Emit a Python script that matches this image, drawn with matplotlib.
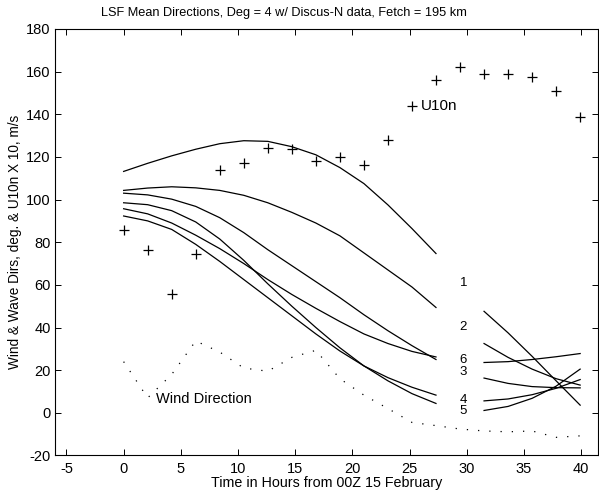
#!/usr/bin/env python
"""
LSF mean directions plot, Deg = 4 with Discus-N data.
"""

import matplotlib

matplotlib.use("Agg")
import matplotlib.pyplot as plt

# U10n (x10) wind speed samples
u_time = [0.0, 2.1, 4.2, 6.3, 8.4, 10.5, 12.6, 14.7, 16.8, 18.9,
          21.0, 23.1, 25.2, 27.3, 29.4, 31.5, 33.6, 35.7, 37.8, 39.9]
u10n = [85.9, 76.2, 55.6, 74.3, 113.7, 117.1, 124.3, 123.8, 117.9, 119.9,
        116.2, 128.0, 144.0, 156.0, 162.0, 159.0, 159.0, 157.4, 150.7, 138.6]

# wind direction (dotted)
wind_dir = [24.0, 7.0, 18.0, 33.7, 28.5, 21.0, 19.5, 26.0, 29.3, 16.0,
            8.3, 2.0, -4.5, -6.0, -7.6, -8.5, -8.9, -8.5, -11.5, -10.8]

# first fit window
t_a = [0.0, 2.1, 4.2, 6.3, 8.4, 10.5, 12.6, 14.7, 16.8, 18.9, 21.0, 23.1, 25.2, 27.3]
a1 = [113.2, 117.0, 120.5, 123.6, 126.2, 127.6, 127.3, 124.8, 121.0, 115.0, 107.5, 97.5, 86.4, 74.7]
a2 = [104.3, 105.4, 106.0, 105.5, 104.3, 102.0, 98.5, 94.0, 89.0, 83.0, 75.0, 67.0, 59.0, 49.4]
a3 = [103.0, 102.2, 100.2, 96.8, 91.5, 84.5, 76.5, 69.0, 61.5, 54.0, 46.0, 38.5, 31.5, 25.0]
a4 = [98.5, 97.6, 94.8, 89.5, 81.5, 71.5, 60.5, 50.0, 40.0, 30.5, 22.0, 15.0, 9.0, 4.4]
a5 = [95.7, 93.3, 89.0, 83.3, 77.0, 70.0, 62.5, 55.5, 49.0, 42.8, 37.0, 32.5, 28.8, 26.2]
a6 = [92.3, 90.0, 86.0, 79.0, 71.0, 62.5, 54.0, 45.5, 37.0, 29.0, 22.0, 16.5, 12.0, 8.3]

# second fit window
t_b = [31.5, 33.6, 35.7, 37.8, 39.9]
b1 = [47.6, 37.5, 26.5, 15.0, 3.6]
b2 = [32.5, 26.0, 20.5, 16.0, 13.0]
b3 = [16.3, 13.8, 12.3, 11.8, 11.7]
b4 = [5.6, 6.5, 8.5, 11.5, 15.6]
b5 = [1.1, 3.0, 6.8, 12.5, 20.5]
b6 = [23.6, 24.0, 25.0, 26.3, 27.8]

mode_labels = ["1", "2", "6", "3", "4", "5"]
mode_label_y = [61.0, 40.3, 24.7, 19.2, 6.0, 0.9]


def main():
    plt.rcParams["font.family"] = ["Liberation Sans", "DejaVu Sans"]
    plt.rcParams["font.size"] = 10
    plt.rcParams["axes.unicode_minus"] = False

    fig = plt.figure(figsize=(5.99, 4.96), dpi=100)
    ax = fig.add_axes([0.0918, 0.0817, 0.9073, 0.8599])

    lw = 0.9
    for curve in [a1, a2, a3, a4, a5, a6]:
        ax.plot(t_a, curve, color="black", linewidth=lw)
    for curve in [b1, b2, b3, b4, b5, b6]:
        ax.plot(t_b, curve, color="black", linewidth=lw)

    ax.plot(u_time, u10n, linestyle="", marker="+", color="black",
            markersize=7, markeredgewidth=0.9)
    ax.plot(u_time, wind_dir, color="black", linewidth=0.9, dashes=(1, 8))

    ax.text(26.0, 144, "U10n", ha="left", va="center", fontsize=11)
    ax.text(2.86, 6.3, "Wind Direction", ha="left", va="center", fontsize=10.5)
    for lab, yy in zip(mode_labels, mode_label_y):
        ax.text(29.7, yy, lab, ha="center", va="center", fontsize=9.5)

    ax.set_xlim(-6, 41.5)
    ax.set_ylim(-20, 180)
    ax.set_xticks(range(-5, 41, 5))
    ax.set_yticks(range(-20, 181, 20))
    ax.tick_params(direction="in", length=4, width=0.7, top=True, right=True,
                   labelsize=10.5)
    ax.tick_params(axis="x", pad=5)
    ax.tick_params(axis="y", pad=3)
    for sp in ax.spines.values():
        sp.set_linewidth(0.8)

    ax.set_xlabel("Time in Hours from 00Z 15 February", fontsize=10.3, labelpad=0)
    ax.set_ylabel("Wind & Wave Dirs, deg. & U10n X 10, m/s", fontsize=9.8,
                  labelpad=3)
    fig.text(284 / 599, 1 - 13 / 496,
             "LSF Mean Directions, Deg = 4 w/ Discus-N data, Fetch = 195 km",
             ha="center", va="center", fontsize=9.2)

    fig.savefig("out.png", dpi=100)
    plt.close(fig)


if __name__ == "__main__":
    main()
